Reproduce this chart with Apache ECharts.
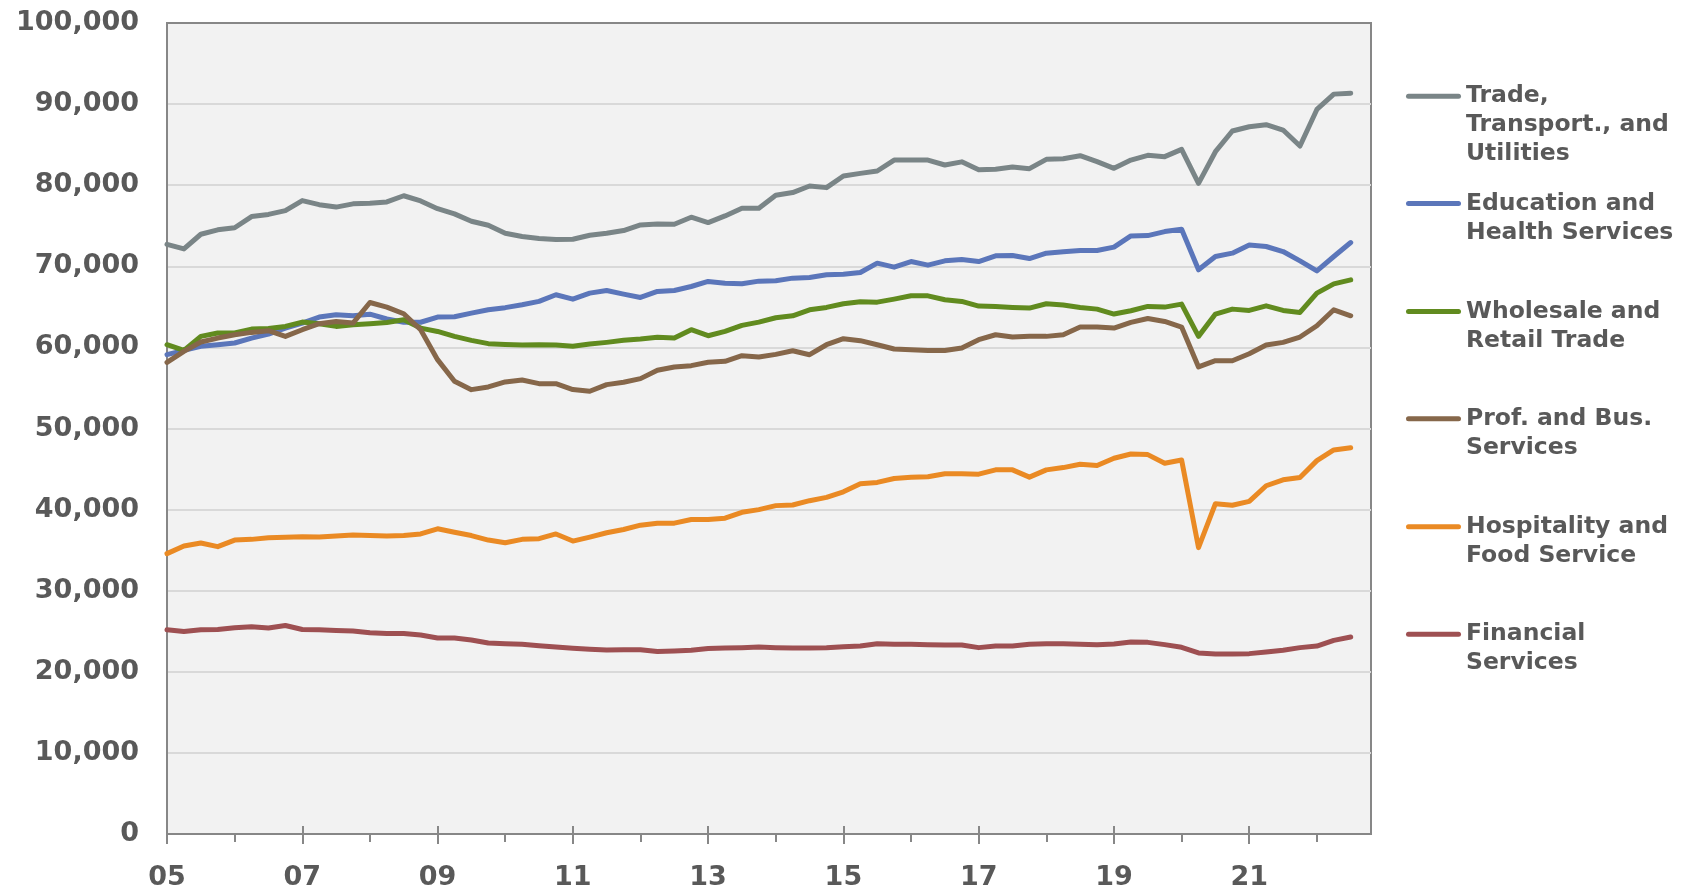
<!DOCTYPE html>
<html>
<head>
<meta charset="utf-8">
<title>Employment by industry</title>
<script src="https://cdn.jsdelivr.net/npm/echarts@6.0.0/dist/echarts.min.js"></script>
<style>
  html, body { margin: 0; padding: 0; background: #fff; }
  #chart { width: 1693px; height: 885px; }
</style>
</head>
<body>
<div id="chart"></div>
<script>
// quarterly values, 2005 Q1 .. 2022 Q3
const startYear = 2005;
const yearLabels = ['05', '07', '09', '11', '13', '15', '17', '19', '21'];
const minorYears = ['06', '08', '10', '12', '14', '16', '18', '20', '22'];

const seriesNames = [
  'Trade,\nTransport., and\nUtilities',
  'Education and\nHealth Services',
  'Wholesale and\nRetail Trade',
  'Prof. and Bus.\nServices',
  'Hospitality and\nFood Service',
  'Financial\nServices'
];

const trade = [
  72700, 72150, 73950, 74500, 74750, 76130, 76400, 76870, 78100, 77600,
  77300, 77700, 77770, 77940, 78700, 78060, 77100, 76460, 75560, 75060,
  74080, 73670, 73420, 73300, 73340, 73830, 74080, 74410, 75100, 75230,
  75190, 76050, 75390, 76210, 77160, 77160, 78760, 79090, 79900, 79700,
  81140, 81460, 81750, 83100, 83100, 83100, 82490, 82880, 81900, 81960,
  82240, 82040, 83190, 83270, 83640, 82900, 82080, 83100, 83680, 83520,
  84420, 80230, 84130, 86680, 87210, 87460, 86800, 84830, 89340, 91230,
  91350
];
const education = [
  59100, 59630, 60130, 60330, 60540, 61150, 61650, 62380, 63000, 63740,
  64030, 63900, 64100, 63500, 63100, 63100, 63740, 63780, 64230, 64640,
  64900, 65260, 65670, 66490, 65950, 66690, 67020, 66570, 66160, 66900,
  67020, 67510, 68130, 67920, 67840, 68170, 68210, 68540, 68620, 68950,
  69030, 69240, 70390, 69890, 70590, 70140, 70670, 70840, 70590, 71290,
  71330, 70960, 71620, 71780, 71950, 71950, 72360, 73750, 73790, 74280,
  74570, 69570, 71210, 71620, 72640, 72440, 71820, 70670, 69440, 71210,
  72930
];
const wholesale = [
  60330, 59630, 61360, 61770, 61770, 62260, 62340, 62590, 63120, 62920,
  62590, 62800, 62920, 63080, 63410, 62380, 61970, 61360, 60870, 60460,
  60370, 60290, 60330, 60290, 60130, 60410, 60620, 60870, 61030, 61240,
  61150, 62180, 61440, 61970, 62710, 63120, 63660, 63900, 64640, 64930,
  65380, 65630, 65580, 65950, 66360, 66360, 65870, 65670, 65090, 65050,
  64930, 64850, 65380, 65220, 64930, 64720, 64110, 64520, 65050, 64970,
  65340, 61360, 64110, 64720, 64560, 65130, 64560, 64310, 66690, 67840,
  68330
];
const profBus = [
  58160, 59510, 60660, 61150, 61560, 61850, 62060, 61360, 62180, 62920,
  63200, 63000, 65540, 64970, 64150, 62180, 58490, 55820, 54790, 55120,
  55740, 55980, 55530, 55530, 54800, 54590, 55410, 55700, 56150, 57180,
  57590, 57750, 58160, 58280, 58980, 58820, 59140, 59590, 59100, 60330,
  61070, 60830, 60330, 59800, 59720, 59630, 59630, 59920, 60950, 61560,
  61280, 61360, 61360, 61560, 62510, 62510, 62380, 63080, 63570, 63200,
  62510, 57590, 58360, 58360, 59220, 60290, 60620, 61280, 62670, 64640,
  63900
];
const hospitality = [
  34570, 35510, 35880, 35430, 36240, 36330, 36530, 36600, 36650, 36610,
  36730, 36860, 36800, 36730, 36800, 37000, 37630, 37200, 36800, 36240,
  35920, 36330, 36410, 37000, 36120, 36610, 37140, 37550, 38080, 38330,
  38330, 38780, 38780, 38940, 39670, 40000, 40490, 40570, 41100, 41510,
  42200, 43180, 43350, 43840, 44000, 44040, 44410, 44410, 44370, 44900,
  44900, 44000, 44900, 45180, 45590, 45430, 46330, 46860, 46780, 45710,
  46120, 35310, 40730, 40530, 41020, 42940, 43670, 43960, 46040, 47350,
  47630
];
const financial = [
  25180, 24980, 25180, 25220, 25430, 25550, 25390, 25710, 25220, 25180,
  25100, 25020, 24820, 24730, 24730, 24530, 24160, 24160, 23920, 23550,
  23470, 23390, 23220, 23060, 22900, 22780, 22690, 22730, 22730, 22490,
  22570, 22650, 22860, 22940, 22980, 23060, 22980, 22940, 22940, 22980,
  23100, 23180, 23470, 23390, 23390, 23350, 23310, 23310, 22980, 23180,
  23180, 23390, 23470, 23470, 23390, 23350, 23430, 23670, 23630, 23350,
  23020, 22330, 22200, 22200, 22240, 22450, 22650, 22980, 23180, 23880,
  24290
];

const seriesValues = [trade, education, wholesale, profBus, hospitality, financial];
const seriesColors = ['#7a8587', '#5b76ba', '#618b1f', '#86674a', '#ea8a24', '#9e5052'];

const axisGray = '#878787';
const textGray = '#595959';
const font = 'DejaVu Sans';

// two-digit year label -> position on the axis (years since startYear)
const yearPos = s => 2000 + Number(s) - startYear;
const xMax = 17.8;

let myChart = echarts.init(document.getElementById('chart'), null, { renderer: 'canvas' });

// one legend per entry, so every entry sits at its own height
const legendTops = [23.7, 160, 268, 375.3, 483.3, 590.7];

let Options = {
  animation: false,
  grid: {
    left: 167,
    top: 23,
    right: 322,
    bottom: 51,
    containLabel: false,
    outerBoundsMode: 'none',
    show: true,
    backgroundColor: '#f2f2f2',
    borderColor: axisGray,
    borderWidth: 2
  },
  legend: seriesNames.map((name, k) => ({
    data: [name],
    left: 1406,
    top: legendTops[k],
    orient: 'vertical',
    padding: 0,
    itemWidth: 55,
    itemHeight: 5,
    // pill shaped marker, like a thick line with round ends
    icon: 'path://M2.5,0 H52.5 A2.5,2.5 0 0 1 52.5,5 H2.5 A2.5,2.5 0 0 1 2.5,0 Z',
    selectedMode: false,
    // blank lines in front keep the marker level with the first text line
    formatter: n => '\n'.repeat(n.split('\n').length - 1) + n,
    textStyle: {
      fontFamily: font,
      fontWeight: 'bold',
      fontSize: 23.5,
      lineHeight: 29,
      color: textGray
    }
  })),
  xAxis: [
    {
      type: 'value',
      min: 0,
      max: xMax,
      position: 'bottom',
      axisLine: { lineStyle: { color: axisGray, width: 2 } },
      axisTick: {
        customValues: yearLabels.map(yearPos),
        length: 10,
        lineStyle: { color: axisGray, width: 2 }
      },
      axisLabel: {
        customValues: yearLabels.map(yearPos),
        formatter: v => yearLabels[yearLabels.map(yearPos).indexOf(v)] || '',
        margin: 30,
        fontFamily: font,
        fontWeight: 'bold',
        fontSize: 27,
        color: textGray
      },
      splitLine: { show: false }
    },
    {
      // short ticks for the even years
      type: 'value',
      min: 0,
      max: xMax,
      position: 'bottom',
      axisLine: { show: false },
      axisTick: {
        customValues: minorYears.map(yearPos),
        length: 8,
        lineStyle: { color: axisGray, width: 2 }
      },
      axisLabel: { show: false },
      splitLine: { show: false }
    },
    {
      // labelled ticks also cross into the plot
      type: 'value',
      min: 0,
      max: xMax,
      position: 'bottom',
      axisLine: { show: false },
      axisTick: {
        inside: true,
        customValues: yearLabels.slice(1).map(yearPos),
        length: 8,
        lineStyle: { color: axisGray, width: 2 }
      },
      axisLabel: { show: false },
      splitLine: { show: false }
    }
  ],
  yAxis: {
    type: 'value',
    min: 0,
    max: 100000,
    interval: 10000,
    axisLine: { show: true, lineStyle: { color: axisGray, width: 2 } },
    axisTick: { show: false },
    axisLabel: {
      formatter: v => v.toLocaleString('en-US'),
      margin: 28,
      fontFamily: font,
      fontWeight: 'bold',
      fontSize: 27,
      color: textGray
    },
    splitLine: {
      showMinLine: false,
      showMaxLine: false,
      lineStyle: { color: '#d9d9d9', width: 2 }
    }
  },
  series: seriesNames.map((name, k) => ({
    name: name,
    type: 'line',
    xAxisIndex: 0,
    symbol: 'none',
    showSymbol: false,
    color: seriesColors[k],
    lineStyle: { width: 5, color: seriesColors[k], cap: 'round', join: 'round' },
    emphasis: { disabled: true },
    data: seriesValues[k].map((v, i) => [i / 4, v])
  }))
};

myChart.setOption(Options);
</script>
</body>
</html>
